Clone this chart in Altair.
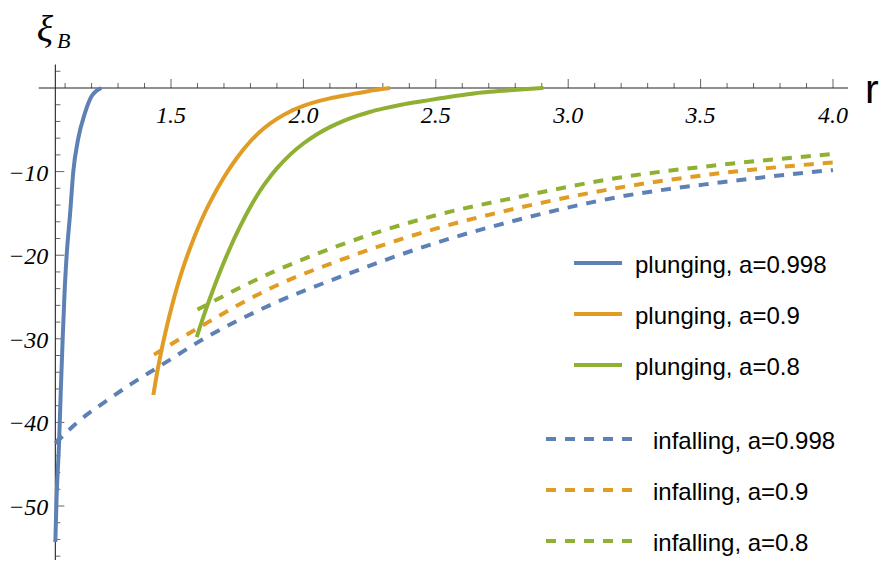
import altair as alt
import pandas as pd

# ---------------- data ----------------
series_names = [
    "plunging, a=0.998", "plunging, a=0.9", "plunging, a=0.8",
    "infalling, a=0.998", "infalling, a=0.9", "infalling, a=0.8",
]
series_colors = ["#5E81B5", "#E19C24", "#8FB032", "#5E81B5", "#E19C24", "#8FB032"]

plunge_0998_r = [1.0632, 1.068, 1.077, 1.084, 1.091, 1.098, 1.106, 1.119, 1.131, 1.150, 1.175, 1.200, 1.220, 1.237]
plunge_0998_xi = [-54.3, -48.9, -42.7, -36.0, -29.9, -24.5, -20.0, -15.0, -10.0, -6.0, -3.0, -1.0, -0.3, 0.0]

plunge_09_r = [1.4332, 1.445, 1.46, 1.48, 1.50, 1.525, 1.55, 1.575, 1.60, 1.625, 1.65, 1.70, 1.75,
               1.80, 1.85, 1.90, 1.95, 2.00, 2.05, 2.10, 2.15, 2.20, 2.25, 2.29, 2.327]
plunge_09_xi = [-36.72, -34.5, -32.0, -29.1, -26.5, -23.6, -21.1, -18.9, -16.9, -15.1, -13.5, -10.68, -8.31,
                -6.37, -4.85, -3.70, -2.81, -2.14, -1.63, -1.24, -0.92, -0.64, -0.36, -0.14, 0.0]

plunge_08_r = [1.5971, 1.63, 1.66, 1.69, 1.72, 1.76, 1.80, 1.825, 1.85, 1.875, 1.90, 1.95, 2.00, 2.05,
               2.10, 2.15, 2.20, 2.25, 2.30, 2.37, 2.4528, 2.5789, 2.65, 2.7047, 2.78, 2.8304, 2.906]
plunge_08_xi = [-29.79, -26.67, -24.04, -21.60, -19.34, -16.62, -14.20, -12.86, -11.66, -10.58, -9.62,
                -7.97, -6.64, -5.56, -4.68, -3.96, -3.37, -2.87, -2.47, -2.00, -1.56, -0.92, -0.62,
                -0.45, -0.26, -0.15, 0.0]

infall_0998_r = [1.0632, 1.15, 1.257, 1.35, 1.446, 1.635, 1.886, 2.138, 2.503, 2.818, 3.196, 3.573, 4.0]
infall_0998_xi = [-42.5, -39.9, -37.4, -35.4, -33.5, -29.8, -25.8, -22.6, -18.5, -15.7, -13.0, -11.3, -9.8]

infall_09_r = [1.436, 1.635, 1.886, 2.138, 2.503, 2.818, 3.196, 3.573, 4.0]
infall_09_xi = [-31.9, -28.1, -23.8, -20.6, -16.8, -14.3, -11.9, -10.2, -8.9]

infall_08_r = [1.600, 1.886, 2.138, 2.503, 2.818, 3.196, 3.573, 4.0]
infall_08_xi = [-26.5, -22.0, -18.8, -15.2, -13.0, -10.7, -9.2, -7.9]

x_major_ticks = [1.5, 2.0, 2.5, 3.0, 3.5, 4.0]
x_tick_labels = ["1.5", "2.0", "2.5", "3.0", "3.5", "4.0"]
x_minor_ticks = [round(1.1 + 0.1 * i, 2) for i in range(30) if round(1.1 + 0.1 * i, 2) not in x_major_ticks]
y_major_ticks = [-10, -20, -30, -40, -50]
y_tick_labels = ["\u221210", "\u221220", "\u221230", "\u221240", "\u221250"]
y_minor_ticks = [2, -2, -4, -6, -8, -12, -14, -16, -18, -22, -24, -26, -28, -32, -34, -36, -38,
                 -42, -44, -46, -48, -52, -54, -56]

axis_origin_r = 1.0632
x_axis_span = [1.0, 4.057]
y_axis_span = [-56.8, 2.8]

# ---------------- geometry ----------------
W, H = 873, 552
x_dom = [0.88444, 4.18127]
y_dom = [-56.459, 9.5694]
xs = alt.Scale(domain=x_dom, nice=False, zero=False)
ys = alt.Scale(domain=y_dom, nice=False, zero=False)

AX = "#222222"
SERIF = "Liberation Serif"
SANS = "Liberation Sans"

def series_df(name, rs, xis):
    return pd.DataFrame({"series": name, "r": rs, "xi": xis, "k": range(len(rs))})

solid_df = pd.concat([
    series_df(series_names[0], plunge_0998_r, plunge_0998_xi),
    series_df(series_names[1], plunge_09_r, plunge_09_xi),
    series_df(series_names[2], plunge_08_r, plunge_08_xi),
])
dash_df = pd.concat([
    series_df(series_names[3], infall_0998_r, infall_0998_xi),
    series_df(series_names[4], infall_09_r, infall_09_xi),
    series_df(series_names[5], infall_08_r, infall_08_xi),
])

color = alt.Color("series:N", scale=alt.Scale(domain=series_names, range=series_colors), legend=None)
X = lambda f: alt.X(f, scale=xs, axis=None)
Y = lambda f: alt.Y(f, scale=ys, axis=None)

# axes lines
x_axis = alt.Chart(pd.DataFrame({"r": [x_axis_span[0]], "r2": [x_axis_span[1]], "xi": [0.0]})).mark_rule(
    color=AX, strokeWidth=1.1).encode(x=X("r:Q"), x2="r2:Q", y=Y("xi:Q"))
y_axis = alt.Chart(pd.DataFrame({"r": [axis_origin_r], "xi": [y_axis_span[0]], "xi2": [y_axis_span[1]]})).mark_rule(
    color=AX, strokeWidth=1.1).encode(x=X("r:Q"), y=Y("xi:Q"), y2="xi2:Q")

xmaj = alt.Chart(pd.DataFrame({"r": x_major_ticks, "xi": 0.0, "lab": x_tick_labels}))
xmaj_t = xmaj.mark_tick(orient="vertical", size=9, thickness=1, color=AX, yOffset=-4.5).encode(x=X("r:Q"), y=Y("xi:Q"))
xmaj_l = xmaj.mark_text(font=SERIF, fontStyle="italic", fontSize=24, color="black", dy=35,
                        baseline="alphabetic", align="center").encode(x=X("r:Q"), y=Y("xi:Q"), text="lab:N")
xmin_t = alt.Chart(pd.DataFrame({"r": x_minor_ticks, "xi": 0.0})).mark_tick(
    orient="vertical", size=5, thickness=1, color=AX, yOffset=-2.5).encode(x=X("r:Q"), y=Y("xi:Q"))

ymaj = alt.Chart(pd.DataFrame({"r": axis_origin_r, "xi": y_major_ticks, "lab": y_tick_labels}))
ymaj_t = ymaj.mark_tick(orient="horizontal", size=9, thickness=1, color=AX, xOffset=4.5).encode(x=X("r:Q"), y=Y("xi:Q"))
ymaj_l = ymaj.mark_text(font=SERIF, fontStyle="italic", fontSize=24, color="black", dx=-7, dy=2,
                        baseline="middle", align="right").encode(x=X("r:Q"), y=Y("xi:Q"), text="lab:N")
ymin_t = alt.Chart(pd.DataFrame({"r": axis_origin_r, "xi": y_minor_ticks})).mark_tick(
    orient="horizontal", size=5, thickness=1, color=AX, xOffset=2.5).encode(x=X("r:Q"), y=Y("xi:Q"))

# curves
solid = alt.Chart(solid_df).mark_line(strokeWidth=4, interpolate="monotone").encode(
    x=X("r:Q"), y=Y("xi:Q"), color=color, detail="series:N", order="k:Q")
dashed = alt.Chart(dash_df).mark_line(strokeWidth=4, strokeDash=[10, 9], interpolate="monotone").encode(
    x=X("r:Q"), y=Y("xi:Q"), color=color, detail="series:N", order="k:Q")

one = alt.Data(values=[{}])

def txt(s, x, y, **kw):
    return alt.Chart(one).mark_text(**kw).encode(x=alt.value(x), y=alt.value(y), text=alt.value(s))

# axis titles
xi_title = txt("\u03be", 37, 34, font=SERIF, fontStyle="italic", fontSize=38, align="center", baseline="alphabetic", color="black")
b_title = txt("B", 49, 40, font=SERIF, fontStyle="italic", fontSize=22, align="left", baseline="alphabetic", color="black")
r_title = txt("r", 857, 95, font=SANS, fontSize=41, align="left", baseline="alphabetic", color="black")

# legend
legend_layers = []
solid_rows = [255, 306, 357]
dash_rows = [431, 482, 533]
for i, yy in enumerate(solid_rows):
    legend_layers.append(alt.Chart(one).mark_rule(color=series_colors[i], strokeWidth=4).encode(
        x=alt.value(566), x2=alt.value(614), y=alt.value(yy)))
    legend_layers.append(txt(series_names[i], 627, yy + 10, font=SANS, fontSize=24, align="left",
                             baseline="alphabetic", color="black"))
for i, yy in enumerate(dash_rows):
    legend_layers.append(alt.Chart(one).mark_rule(color=series_colors[3 + i], strokeWidth=4, strokeDash=[10, 9]).encode(
        x=alt.value(538), x2=alt.value(627), y=alt.value(yy)))
    legend_layers.append(txt(series_names[3 + i], 645, yy + 10, font=SANS, fontSize=24, align="left",
                             baseline="alphabetic", color="black"))

chart = alt.layer(
    x_axis, y_axis, xmin_t, xmaj_t, ymin_t, ymaj_t, xmaj_l, ymaj_l,
    solid, dashed, xi_title, b_title, r_title, *legend_layers
).properties(
    width=W, height=H, padding=0, autosize=alt.AutoSizeParams(type="none")
).configure_view(stroke=None)

chart.save("out.html", embed_options={"renderer": "svg", "actions": False})
